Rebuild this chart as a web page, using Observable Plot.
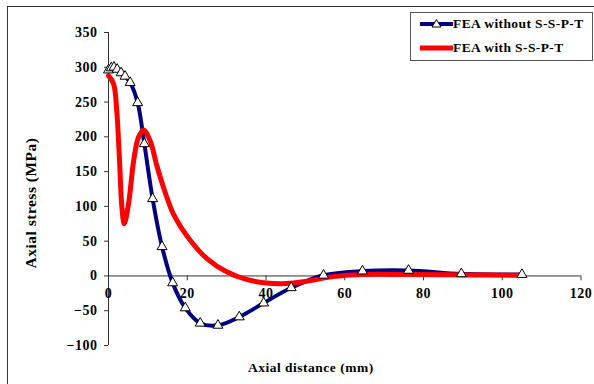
<!DOCTYPE html>
<html>
<head>
<meta charset="utf-8">
<script src="https://cdn.jsdelivr.net/npm/d3@7"></script>
<script src="https://cdn.jsdelivr.net/npm/@observablehq/plot@0.6"></script>
<style>
  body { margin: 0; background: #fff; }
  #wrap { position: relative; width: 594px; height: 384px; overflow: hidden; font-family: "Liberation Serif", "Times New Roman", serif; }
  #frame { position: absolute; left: 7px; top: 6px; width: 600px; height: 400px; border-left: 1.5px solid #333; border-top: 1.5px solid #333; pointer-events: none; }
  #legend { position: absolute; left: 410px; top: 12px; width: 181px; height: 47px; border: 1px solid #555; background: #fff; font-weight: bold; font-size: 13.5px; letter-spacing: 0.4px; }
  .entry { position: absolute; left: 9px; height: 16px; display: flex; align-items: center; white-space: nowrap; }
</style>
</head>
<body>
<div id="wrap">
  <div id="chart"></div>
  <div id="frame"></div>
  <div id="legend"></div>
</div>
<script>
// Series 1: FEA without S-S-P-T (markers)
const blueX = [0, 0.7, 1.4, 2.2, 3.2, 4.2, 5.5, 7.4, 9.1, 11.2, 13.6, 16.3, 19.5, 23.3, 27.8, 33.2, 39.4, 46.4, 54.6, 64.5, 76.2, 89.6, 105];
const blueY = [296, 299, 300, 297, 292, 287, 278, 249, 190, 111, 42, -10, -46, -68, -71, -59, -39, -17, 1, 7, 8, 3, 2];
// Series 2: FEA with S-S-P-T
const redX = [0, 1.3, 2.1, 2.8, 3.4, 4.0, 5.1, 6.4, 7.6, 8.9, 10.6, 12.3, 14.4, 16.5, 20.8, 25, 30, 35, 40, 45, 50, 57, 65, 76, 90, 105];
const redY = [288, 276, 237, 166, 99, 75, 104, 166, 199, 210, 194, 158, 120, 89, 51, 25, 6, -5, -10, -11, -8, -1, 2, 2, 1.5, 1];
const seriesNames = ["FEA without S-S-P-T", "FEA with S-S-P-T"];
const seriesColors = ["#000080", "#ff0000"];
const xTicks = [0, 20, 40, 60, 80, 100, 120];
const yTicks = [-100, -50, 0, 50, 100, 150, 200, 250, 300, 350];
const xTitle = "Axial distance (mm)";
const yTitle = "Axial stress (MPa)";

const blue = blueX.map((x, i) => ({x, y: blueY[i]}));
const red = redX.map((x, i) => ({x, y: redY[i]}));

const chart = Plot.plot({
  width: 594,
  height: 384,
  marginLeft: 108,
  marginRight: 13.5,
  marginTop: 32,
  marginBottom: 39,
  style: {fontFamily: "'Liberation Serif', 'Times New Roman', serif", fontSize: "14px", fontWeight: "bold", color: "#000", background: "transparent", letterSpacing: "0.5px"},
  x: {domain: [0, 120], axis: null},
  y: {domain: [-100, 350]},
  marks: [
    Plot.axisY({ticks: yTicks, tickSize: 4, tickPadding: 7, label: null, stroke: "#333", fontWeight: "bold", fontSize: 14}),
    Plot.ruleX([0], {y1: -100, y2: 350, stroke: "#333"}),
    Plot.ruleY([0], {x1: 0, x2: 120, stroke: "#333"}),
    Plot.ruleX(xTicks, {x: d => d, y1: 0, y2: -7, stroke: "#333"}),
    Plot.text(xTicks, {x: d => d, y: 0, dy: 18, text: d => String(d), fontWeight: "bold", fontSize: 14, fill: "#000"}),
    Plot.text([yTitle], {frameAnchor: "left", textAnchor: "middle", lineAnchor: "middle", rotate: -90, dx: -77.5, dy: 14, fontWeight: "bold", fontSize: 15.5, fill: "#000"}),
    Plot.text([xTitle], {frameAnchor: "bottom", textAnchor: "middle", lineAnchor: "middle", dx: -34, dy: 22, fontWeight: "bold", fontSize: 13.5, fill: "#000"}),
    Plot.line(blue, {x: "x", y: "y", stroke: seriesColors[0], strokeWidth: 4, curve: "catmull-rom"}),
    Plot.line(red, {x: "x", y: "y", stroke: seriesColors[1], strokeWidth: 5, curve: "catmull-rom"}),
    Plot.dot(blue, {x: "x", y: "y", symbol: "triangle", r: 3.7, fill: "#fff", stroke: "#000", strokeWidth: 1})
  ]
});
document.getElementById("chart").appendChild(chart);

// Legend
const legend = document.getElementById("legend");
seriesNames.forEach((name, i) => {
  const e = document.createElement("div");
  e.className = "entry";
  e.style.top = (i === 0 ? 3.3 : 26.7) + "px";
  const marker = i === 0 ? `<path d="M16.5,3.5 L21,11 L12,11 Z" fill="#fff" stroke="#000" stroke-width="1"/>` : "";
  e.innerHTML = `<svg width="33" height="16"><line x1="0" x2="33" y1="8" y2="8" stroke="${seriesColors[i]}" stroke-width="${i === 0 ? 4 : 5}"/>${marker}</svg><span>${name}</span>`;
  legend.appendChild(e);
});
</script>
</body>
</html>
